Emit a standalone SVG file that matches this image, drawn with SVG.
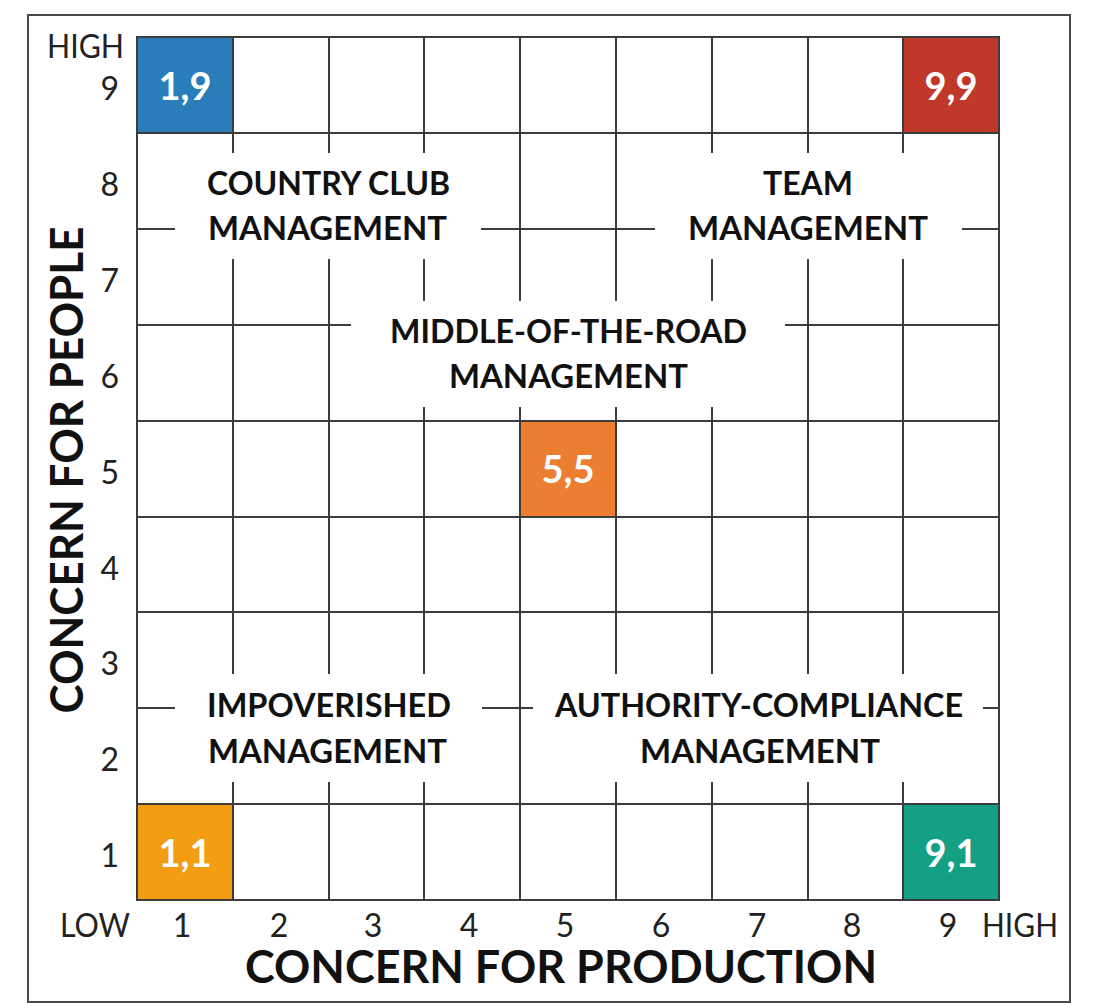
<svg xmlns="http://www.w3.org/2000/svg" width="1111" height="1003" viewBox="0 0 1111 1003">
<style>
.grid line{stroke:#3c3c3c;stroke-width:2;fill:none}
.gap{fill:#fff}
.q{font-family:Lato,"Open Sans","Liberation Sans",sans-serif;font-weight:bold;font-size:32.5px;fill:#111;text-anchor:middle}
.c{font-family:Lato,"Open Sans","Liberation Sans",sans-serif;font-weight:bold;font-size:38px;fill:#fff;text-anchor:middle}
.n{font-family:Lato,"Open Sans","Liberation Sans",sans-serif;font-size:32px;fill:#222}
.t{font-family:Lato,"Open Sans","Liberation Sans",sans-serif;font-weight:bold;font-size:45px;fill:#111;text-anchor:middle}
.cell{stroke:#333;stroke-width:2}
</style>
<rect x="0" y="0" width="1111" height="1003" fill="#fff"/>
<rect id="frame" x="28" y="15" width="1042" height="987" fill="none" stroke="#4a4a4a" stroke-width="2"/>

<g id="cell-1-9"><rect class="cell" x="137" y="37" width="96" height="96" fill="#2A7DB9"/></g>
<g id="cell-9-9"><rect class="cell" x="903" y="37" width="96" height="96" fill="#C0382A"/></g>
<g id="cell-5-5"><rect class="cell" x="520" y="421" width="96" height="96" fill="#EC7E32"/></g>
<g id="cell-1-1"><rect class="cell" x="137" y="804" width="96" height="96" fill="#F29D12"/></g>
<g id="cell-9-1"><rect class="cell" x="903" y="804" width="96" height="96" fill="#14A084"/></g>

<g id="grid" class="grid">
<line x1="137" y1="37" x2="137" y2="900"/>
<line x1="233" y1="37" x2="233" y2="900"/>
<line x1="329" y1="37" x2="329" y2="900"/>
<line x1="424" y1="37" x2="424" y2="900"/>
<line x1="520" y1="37" x2="520" y2="900"/>
<line x1="616" y1="37" x2="616" y2="900"/>
<line x1="712" y1="37" x2="712" y2="900"/>
<line x1="808" y1="37" x2="808" y2="900"/>
<line x1="903" y1="37" x2="903" y2="900"/>
<line x1="999" y1="37" x2="999" y2="900"/>
<line x1="137" y1="37" x2="999" y2="37"/>
<line x1="137" y1="133" x2="999" y2="133"/>
<line x1="137" y1="229" x2="999" y2="229"/>
<line x1="137" y1="325" x2="999" y2="325"/>
<line x1="137" y1="421" x2="999" y2="421"/>
<line x1="137" y1="517" x2="999" y2="517"/>
<line x1="137" y1="612" x2="999" y2="612"/>
<line x1="137" y1="708" x2="999" y2="708"/>
<line x1="137" y1="804" x2="999" y2="804"/>
<line x1="137" y1="900" x2="999" y2="900"/>
</g>

<g id="gaps">
<rect class="gap" x="175" y="153" width="306" height="106"/>
<rect class="gap" x="655" y="153" width="307" height="106"/>
<rect class="gap" x="351" y="301" width="434" height="106"/>
<rect class="gap" x="175" y="674" width="307" height="108"/>
<rect class="gap" x="533" y="674" width="450" height="108"/>
</g>

<g id="label-country-club">
<text class="q" x="328.5" y="195" textLength="243" lengthAdjust="spacingAndGlyphs">COUNTRY CLUB</text>
<text class="q" x="327.5" y="240" textLength="239" lengthAdjust="spacingAndGlyphs">MANAGEMENT</text>
</g>
<g id="label-team">
<text class="q" x="808" y="195" textLength="90" lengthAdjust="spacingAndGlyphs">TEAM</text>
<text class="q" x="808" y="240" textLength="240" lengthAdjust="spacingAndGlyphs">MANAGEMENT</text>
</g>
<g id="label-middle">
<text class="q" x="568.5" y="343" textLength="357" lengthAdjust="spacingAndGlyphs">MIDDLE-OF-THE-ROAD</text>
<text class="q" x="568.5" y="388" textLength="239" lengthAdjust="spacingAndGlyphs">MANAGEMENT</text>
</g>
<g id="label-impoverished">
<text class="q" x="329" y="717" textLength="244" lengthAdjust="spacingAndGlyphs">IMPOVERISHED</text>
<text class="q" x="327.5" y="763" textLength="239" lengthAdjust="spacingAndGlyphs">MANAGEMENT</text>
</g>
<g id="label-authority">
<text class="q" x="759" y="717" textLength="408" lengthAdjust="spacingAndGlyphs">AUTHORITY-COMPLIANCE</text>
<text class="q" x="760" y="763" textLength="240" lengthAdjust="spacingAndGlyphs">MANAGEMENT</text>
</g>

<g id="cell-labels">
<text class="c" x="185" y="100">1,9</text>
<text class="c" x="951" y="100">9,9</text>
<text class="c" x="568" y="483">5,5</text>
<text class="c" x="185" y="867">1,1</text>
<text class="c" x="951" y="867">9,1</text>
</g>

<g id="y-axis">
<text class="n" x="47" y="58" textLength="77" lengthAdjust="spacingAndGlyphs">HIGH</text>
<g text-anchor="end">
<text class="n" x="119" y="100" text-anchor="end">9</text>
<text class="n" x="119" y="196" text-anchor="end">8</text>
<text class="n" x="119" y="292" text-anchor="end">7</text>
<text class="n" x="119" y="388" text-anchor="end">6</text>
<text class="n" x="119" y="484" text-anchor="end">5</text>
<text class="n" x="119" y="580" text-anchor="end">4</text>
<text class="n" x="119" y="675" text-anchor="end">3</text>
<text class="n" x="119" y="771" text-anchor="end">2</text>
<text class="n" x="119" y="867" text-anchor="end">1</text>
</g>
<text class="t" transform="translate(83,470) rotate(-90)" x="0" y="0" textLength="487" lengthAdjust="spacingAndGlyphs">CONCERN FOR PEOPLE</text>
</g>

<g id="x-axis">
<text class="n" x="60" y="937" textLength="70" lengthAdjust="spacingAndGlyphs">LOW</text>
<text class="n" x="182" y="937" text-anchor="middle">1</text>
<text class="n" x="279" y="937" text-anchor="middle">2</text>
<text class="n" x="373" y="937" text-anchor="middle">3</text>
<text class="n" x="469" y="937" text-anchor="middle">4</text>
<text class="n" x="565" y="937" text-anchor="middle">5</text>
<text class="n" x="661" y="937" text-anchor="middle">6</text>
<text class="n" x="757" y="937" text-anchor="middle">7</text>
<text class="n" x="852" y="937" text-anchor="middle">8</text>
<text class="n" x="948" y="937" text-anchor="middle">9</text>
<text class="n" x="982" y="937" textLength="76" lengthAdjust="spacingAndGlyphs">HIGH</text>
<text class="t" x="561" y="983" textLength="632" lengthAdjust="spacingAndGlyphs">CONCERN FOR PRODUCTION</text>
</g>
</svg>
